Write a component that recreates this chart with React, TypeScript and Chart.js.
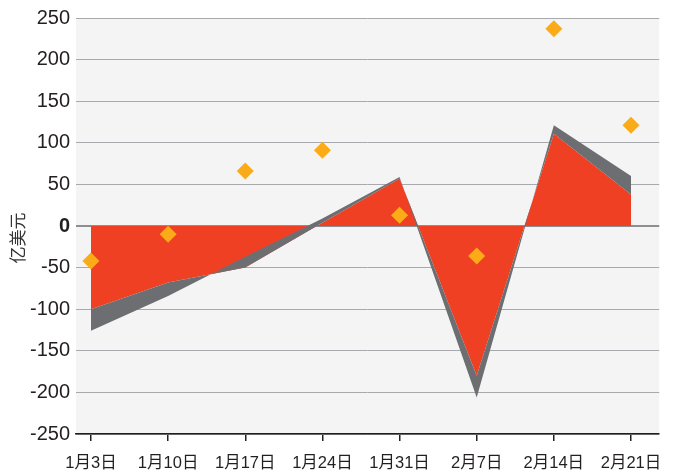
import React, { useEffect, useRef } from 'react';
import { Chart, registerables } from 'chart.js';

Chart.register(...registerables);

const categories = ['1月3日', '1月10日', '1月17日', '1月24日', '1月31日', '2月7日', '2月14日', '2月21日'];
const redValues = [-100, -68, -50, 4, 57, -180, 111, 38];
const grayValues = [-126, -84, -37, 9, 59, -206, 121, 60];
const diamondValues = [-42, -10, 66, 91, 13, -36, 237, 121];
const yMin = -250;
const yMax = 250;
const yStep = 50;
const yTitle = '亿美元';

const FONT = "'Liberation Sans', 'Noto Sans CJK SC', sans-serif";

const plotBg = {
  id: 'plotBg',
  beforeDraw(chart: any) {
    const { ctx, chartArea } = chart;
    if (!chartArea) return;
    ctx.save();
    ctx.fillStyle = '#f3f4f3';
    ctx.fillRect(chartArea.left, chartArea.top, chartArea.right - chartArea.left, chartArea.bottom - chartArea.top);
    ctx.restore();
  },
  afterDraw(chart: any) {
    const { ctx, chartArea } = chart;
    if (!chartArea) return;
    ctx.save();
    ctx.translate(18, (chartArea.top + chartArea.bottom) / 2 + 12);
    ctx.rotate(-Math.PI / 2);
    ctx.font = "17px 'Noto Sans CJK SC', sans-serif";
    ctx.fillStyle = '#333333';
    ctx.textAlign = 'center';
    ctx.textBaseline = 'middle';
    ctx.fillText(yTitle, 0, 0);
    ctx.restore();
  },
};

export default function App() {
  const ref = useRef<HTMLCanvasElement | null>(null);

  useEffect(() => {
    if (!ref.current) return;
    const toPts = (arr: number[]) => arr.map((v, i) => ({ x: i, y: v }));
    const chart = new Chart(ref.current, {
      type: 'line',
      data: {
        datasets: [
          {
            label: 'red',
            data: toPts(redValues),
            backgroundColor: '#f04024',
            borderColor: 'transparent',
            borderWidth: 0,
            pointRadius: 0,
            fill: 'origin',
            tension: 0,
            order: 3,
          },
          {
            label: 'gray',
            data: toPts(grayValues),
            backgroundColor: '#6d6e71',
            borderColor: 'transparent',
            borderWidth: 0,
            pointRadius: 0,
            fill: { target: 0, above: '#6d6e71', below: '#6d6e71' },
            tension: 0,
            order: 2,
          },
          {
            label: 'diamond',
            data: toPts(diamondValues),
            showLine: false,
            pointStyle: 'rectRot',
            pointRadius: 8.5,
            pointBackgroundColor: '#fbab18',
            pointBorderWidth: 0,
            pointBorderColor: '#fbab18',
            fill: false,
            order: 1,
          },
        ],
      },
      options: {
        animation: false,
        responsive: true,
        maintainAspectRatio: false,
        layout: { padding: { top: 17, right: 15, left: 0, bottom: 0 } },
        plugins: {
          legend: { display: false },
          tooltip: { enabled: false },
        },
        scales: {
          x: {
            type: 'linear',
            min: -0.194,
            max: 7.366,
            afterBuildTicks: (s: any) => {
              s.ticks = categories.map((_, i) => ({ value: i }));
            },
            afterFit: (s: any) => {
              s.height = 38;
            },
            ticks: {
              callback: (v: any) => categories[v as number] ?? '',
              autoSkip: false,
              maxRotation: 0,
              font: { size: 16.5, family: FONT },
              color: '#231f20',
              padding: 13,
            },
            grid: {
              drawOnChartArea: false,
              drawTicks: true,
              tickLength: 7,
              color: '#231f20',
              lineWidth: 1.5,
            },
            border: { display: true, color: '#231f20', width: 1.5 },
          },
          y: {
            min: yMin,
            max: yMax,
            afterFit: (s: any) => {
              s.width = 76;
            },
            ticks: {
              stepSize: yStep,
              font: (ctx: any) => ({
                size: 20,
                family: FONT,
                weight: ctx.tick && ctx.tick.value === 0 ? 'bold' : 'normal',
              }),
              color: '#231f20',
              padding: 6,
            },
            grid: {
              drawTicks: false,
              color: (ctx: any) => (ctx.tick && ctx.tick.value === 0 ? '#8c8e91' : '#a7a9ac'),
              lineWidth: (ctx: any) => (ctx.tick && ctx.tick.value === 0 ? 2 : 1),
            },
            border: { display: false },
            title: { display: false },
          },
        },
      },
      plugins: [plotBg],
    });
    return () => chart.destroy();
  }, []);

  return (
    <div style={{ position: 'absolute', left: 0, top: 0, width: 675, height: 472 }}>
      <canvas ref={ref} />
    </div>
  );
}
